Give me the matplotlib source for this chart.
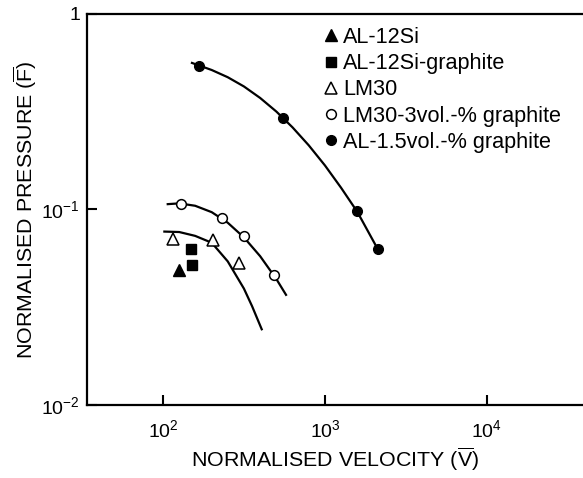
import numpy as np
import matplotlib
matplotlib.use("Agg")
import matplotlib.pyplot as plt

plt.rcParams['font.family'] = ['Liberation Sans', 'DejaVu Sans']
plt.rcParams['mathtext.fontset'] = 'custom'
plt.rcParams['mathtext.rm'] = 'Liberation Sans'
plt.rcParams['mathtext.it'] = 'Liberation Sans'
plt.rcParams['mathtext.bf'] = 'Liberation Sans:bold'

# ---- data ----
al12si_v = [126]
al12si_f = [0.049]

al12si_gr_v = [149, 151]
al12si_gr_f = [0.0625, 0.0518]

lm30_v = [115, 204, 294]
lm30_f = [0.0703, 0.0695, 0.053]

lm30_gr_v = [129, 231, 316, 484]
lm30_gr_f = [0.107, 0.090, 0.0728, 0.046]

al15_gr_v = [167, 551, 1578, 2123]
al15_gr_f = [0.543, 0.295, 0.0977, 0.0625]

# fitted curves
curve_al15_v = [151, 200, 251, 316, 398, 501, 631, 794, 1000, 1259, 1585, 2123]
curve_al15_f = [0.562, 0.517, 0.475, 0.426, 0.372, 0.317, 0.263, 0.213, 0.168, 0.129, 0.0972, 0.0625]

curve_lm30gr_v = [107, 126, 158, 200, 251, 316, 398, 501, 575]
curve_lm30gr_f = [0.1065, 0.1075, 0.1045, 0.0969, 0.0856, 0.0720, 0.0577, 0.0441, 0.0366]

curve_lm30_v = [102, 126, 158, 200, 251, 316, 355, 407]
curve_lm30_f = [0.0771, 0.0767, 0.0733, 0.0676, 0.0543, 0.0394, 0.0320, 0.0244]

labels = ['AL-12Si', 'AL-12Si-graphite', 'LM30', 'LM30-3vol.-% graphite',
          'AL-1.5vol.-% graphite']

xticks = [1e2, 1e3, 1e4]
xticklabels = [r'$10^{2}$', r'$10^{3}$', r'$10^{4}$']
yticks = [1e-2, 1e-1, 1]
yticklabels = [r'$10^{-2}$', r'$10^{-1}$', '1']

W, H = 583, 478
fig = plt.figure(figsize=(W / 100, H / 100), dpi=100)
ax_w = (W - 87) / W + 0.01
ax = fig.add_axes([87 / W, 1 - 405 / H, ax_w, (405 - 14) / H])

ax.set_xscale('log')
ax.set_yscale('log')
ax.set_xlim(10 ** 1.531, 10 ** (1.531 + 3.062 * ax_w * W / (W - 87)))
ax.set_ylim(1e-2, 1)

lw = 1.6
ax.plot(curve_al15_v, curve_al15_f, color='black', lw=lw)
ax.plot(curve_lm30gr_v, curve_lm30gr_f, color='black', lw=lw)
ax.plot(curve_lm30_v, curve_lm30_f, color='black', lw=lw)

h1, = ax.plot(al12si_v, al12si_f, ls='none', marker='^', ms=8, mfc='black', mec='black')
h2, = ax.plot(al12si_gr_v, al12si_gr_f, ls='none', marker='s', ms=7, mfc='black', mec='black')
h3, = ax.plot(lm30_v, lm30_f, ls='none', marker='^', ms=8, mfc='white', mec='black', mew=1.1)
h4, = ax.plot(lm30_gr_v, lm30_gr_f, ls='none', marker='o', ms=7, mfc='white', mec='black', mew=1.1)
h5, = ax.plot(al15_gr_v, al15_gr_f, ls='none', marker='o', ms=7, mfc='black', mec='black')

ax.legend([h1, h2, h3, h4, h5], labels, loc='upper left',
          bbox_to_anchor=(325 / W, 1 - 27 / H), bbox_transform=fig.transFigure,
          frameon=False, fontsize=15.6, handlelength=0.6, handletextpad=0.22,
          labelspacing=0.24, borderpad=0, borderaxespad=0)

ax.set_xticks(xticks)
ax.set_xticklabels(xticklabels)
ax.set_yticks(yticks)
ax.set_yticklabels(yticklabels)
ax.xaxis.set_minor_locator(matplotlib.ticker.NullLocator())
ax.yaxis.set_minor_locator(matplotlib.ticker.NullLocator())
ax.tick_params(direction='in', length=7, width=1.5, labelsize=14, color='black')
ax.tick_params(axis='x', pad=10)
ax.tick_params(axis='y', pad=5)

for s in ['left', 'bottom', 'top']:
    ax.spines[s].set_linewidth(1.6)
ax.spines['right'].set_visible(False)

ax.set_xlabel(r'NORMALISED VELOCITY ($\overline{\mathrm{V}}$)', fontsize=15.4)
ax.set_ylabel(r'NORMALISED PRESSURE ($\overline{\mathrm{F}}$)', fontsize=15.4)
ax.xaxis.set_label_coords(((87 + 583) / 2 - 87) / (ax_w * W), -0.105)
ax.yaxis.set_label_coords(-0.096, 0.5)

fig.savefig('out.png', dpi=100)
